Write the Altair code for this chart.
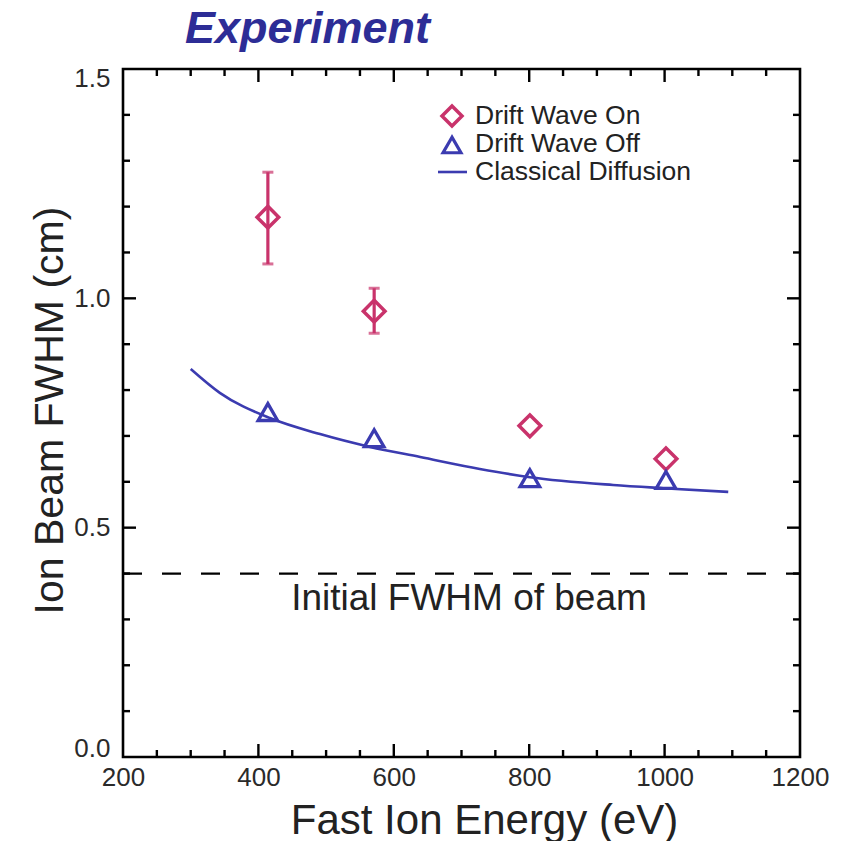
import altair as alt
import pandas as pd

# ---- data ----
energy_on = [414, 571, 801, 1002]
fwhm_on = [1.177, 0.972, 0.722, 0.650]
energy_err = [414, 571]
err_lo = [1.075, 0.924]
err_hi = [1.275, 1.022]

energy_off = [414, 571, 801, 1002]
fwhm_off = [0.752, 0.695, 0.608, 0.604]

energy_cd = [300, 343, 417, 491, 565, 639, 727, 801, 924, 998, 1094]
fwhm_cd = [0.846, 0.794, 0.739, 0.704, 0.676, 0.654, 0.628, 0.610, 0.593, 0.586, 0.578]

initial_fwhm = [0.40]

x_major = [200, 400, 600, 800, 1000, 1200]
x_minor = [250, 300, 350, 450, 500, 550, 650, 700, 750, 850, 900, 950, 1050, 1100, 1150]
y_major = [0.0, 0.5, 1.0, 1.5]
y_minor = [0.1, 0.2, 0.3, 0.4, 0.6, 0.7, 0.8, 0.9, 1.1, 1.2, 1.3, 1.4]

legend_labels = ["Drift Wave On", "Drift Wave Off", "Classical Diffusion"]

W, H = 677, 688
RED = "#C9336B"
BLUE = "#3B3BB0"
FONT = "Liberation Sans"

xs = alt.Scale(domain=[200, 1200], nice=False, zero=False)
ys = alt.Scale(domain=[0, 1.5], nice=False, zero=False)

xaxis = alt.Axis(values=x_major, format="d", labelFontSize=26, labelFont=FONT,
                 labelColor="#2a2a2a", ticks=False, domain=False, grid=False,
                 labelPadding=7, labelFlush=False,
                 title="Fast Ion Energy (eV)", titleFont=FONT, titleFontSize=42,
                 titleFontWeight="normal", titleColor="#222222",
                 titleX=361, titleY=76, titleBaseline="alphabetic", titleAlign="center")
yaxis = alt.Axis(values=y_major, format=".1f", labelFontSize=26, labelFont=FONT,
                 labelColor="#2a2a2a", ticks=False, domain=False, grid=False,
                 labelPadding=13, labelFlush=True, labelFlushOffset=4,
                 title="Ion Beam FWHM (cm)", titleFont=FONT, titleFontSize=41,
                 titleFontWeight="normal", titleColor="#222222",
                 titleX=-61, titleY=341, titleAngle=-90,
                 titleBaseline="alphabetic", titleAlign="center")


def X(field):
    return alt.X(field, type="quantitative", scale=xs, axis=xaxis)


def Y(field):
    return alt.Y(field, type="quantitative", scale=ys, axis=yaxis)


df_on = pd.DataFrame({"E": energy_on, "F": fwhm_on})
df_err = pd.DataFrame({"E": energy_err, "lo": err_lo, "hi": err_hi})
df_off = pd.DataFrame({"E": energy_off, "F": fwhm_off})
df_cd = pd.DataFrame({"E": energy_cd, "F": fwhm_cd})
df_init = pd.DataFrame({"F": initial_fwhm})

df_xmaj = pd.DataFrame({"v": x_major[1:-1]})
df_xmin = pd.DataFrame({"v": x_minor})
df_ymaj = pd.DataFrame({"v": y_major[1:-1]})
df_ymin = pd.DataFrame({"v": y_minor})

tick_style = dict(color="black", strokeWidth=2.4)

ticks = []
for df, L in [(df_xmaj, 13), (df_xmin, 7)]:
    ticks.append(alt.Chart(df).mark_rule(**tick_style).encode(
        x=X("v"), y=alt.value(H), y2=alt.value(H - L)))
    ticks.append(alt.Chart(df).mark_rule(**tick_style).encode(
        x=X("v"), y=alt.value(0), y2=alt.value(L)))
for df, L in [(df_ymaj, 13), (df_ymin, 7)]:
    ticks.append(alt.Chart(df).mark_rule(**tick_style).encode(
        y=Y("v"), x=alt.value(0), x2=alt.value(L)))
    ticks.append(alt.Chart(df).mark_rule(**tick_style).encode(
        y=Y("v"), x=alt.value(W), x2=alt.value(W - L)))

dashed = alt.Chart(df_init).mark_rule(color="black", strokeWidth=2.2, strokeDash=[19, 20]).encode(
    y=Y("F"), x=alt.value(0), x2=alt.value(W))

init_text = alt.Chart(pd.DataFrame({"t": ["Initial FWHM of beam"]})).mark_text(
    font=FONT, fontSize=37, color="#222222", align="center", baseline="alphabetic").encode(
    text="t:N", x=alt.value(346), y=alt.value(541))

cd_line = alt.Chart(df_cd).mark_line(color=BLUE, strokeWidth=2.6, interpolate="monotone").encode(
    x=X("E"), y=Y("F"))

err_rule = alt.Chart(df_err).mark_rule(color=RED, strokeWidth=3.2).encode(
    x=X("E"), y=Y("lo"), y2="hi:Q")
cap_lo = alt.Chart(df_err).mark_tick(color=RED, thickness=3, size=11, orient="horizontal").encode(
    x=X("E"), y=Y("lo"))
cap_hi = alt.Chart(df_err).mark_tick(color=RED, thickness=3, size=11, orient="horizontal").encode(
    x=X("E"), y=Y("hi"))

pts_on = alt.Chart(df_on).mark_point(shape="diamond", filled=False, color=RED,
                                     strokeWidth=3.5, size=470, opacity=1).encode(
    x=X("E"), y=Y("F"))
pts_off = alt.Chart(df_off).mark_point(shape="triangle-up", filled=False, color=BLUE,
                                       strokeWidth=3.3, size=380, opacity=1).encode(
    x=X("E"), y=Y("F"))

# ---- legend (inside the plot, top right) ----
LX = 452 - 123
row_y = [116 - 69, 144 - 69, 172 - 69]
leg_on = alt.Chart(pd.DataFrame({"a": [0]})).mark_point(
    shape="diamond", filled=False, color=RED, strokeWidth=3.5, size=400, opacity=1).encode(
    x=alt.value(LX), y=alt.value(row_y[0]))
leg_off = alt.Chart(pd.DataFrame({"a": [0]})).mark_point(
    shape="triangle-up", filled=False, color=BLUE, strokeWidth=3.2, size=320, opacity=1).encode(
    x=alt.value(LX), y=alt.value(row_y[1] + 1))
leg_line = alt.Chart(pd.DataFrame({"a": [0]})).mark_rule(color=BLUE, strokeWidth=2.6).encode(
    x=alt.value(438 - 123), x2=alt.value(467 - 123), y=alt.value(row_y[2]))
leg_texts = [
    alt.Chart(pd.DataFrame({"t": [lab]})).mark_text(
        font=FONT, fontSize=26.5, color="#222222", align="left", baseline="middle").encode(
        text="t:N", x=alt.value(475 - 123), y=alt.value(ry))
    for lab, ry in zip(legend_labels, row_y)
]

title_txt = alt.Chart(pd.DataFrame({"t": ["Experiment"]})).mark_text(
    font=FONT, fontSize=45, fontStyle="italic", fontWeight="bold", color="#2D2D96",
    align="left", baseline="alphabetic").encode(
    text="t:N", x=alt.value(185 - 123), y=alt.value(43 - 69))

chart = alt.layer(
    *ticks, dashed, init_text, cd_line, err_rule, cap_lo, cap_hi, pts_on, pts_off,
    leg_on, leg_off, leg_line, *leg_texts, title_txt
).properties(
    width=W, height=H,
    autosize=alt.AutoSizeParams(type="none"),
    padding={"left": 123, "top": 69, "right": 50, "bottom": 84},
    background="white",
).configure_view(stroke="black", strokeWidth=2.6)

chart.save("out.html", embed_options={"renderer": "svg", "actions": False})
